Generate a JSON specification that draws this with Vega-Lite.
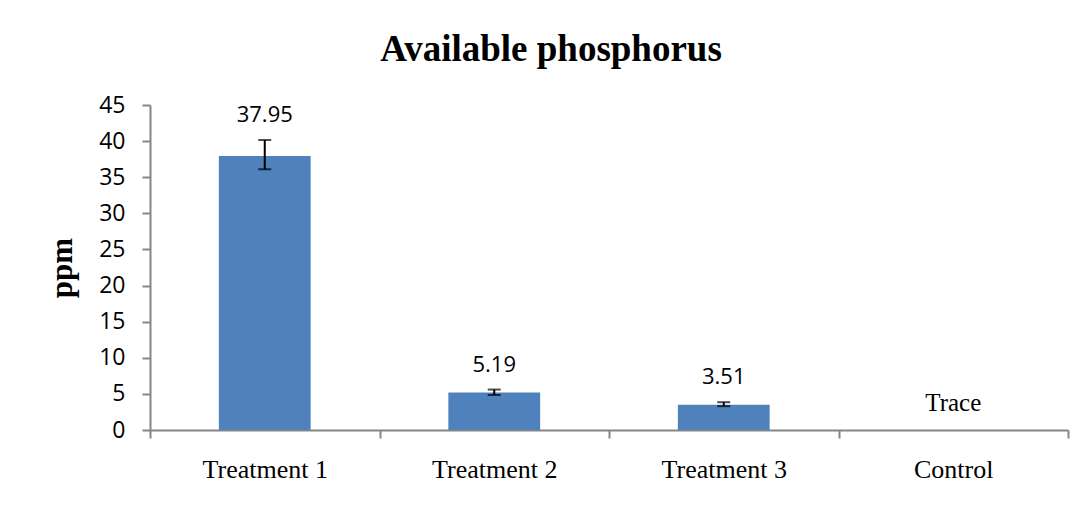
{
  "$schema": "https://vega.github.io/schema/vega-lite/v6.json",
  "width": 918,
  "height": 325,
  "autosize": {"type": "none"},
  "padding": {"left": 150, "top": 105, "right": 20, "bottom": 78},
  "background": "white",
  "config": {
    "view": {"stroke": null},
    "axisY": {
      "titleFont": "Liberation Serif",
      "titleFontSize": 31,
      "titleFontWeight": "bold",
      "titleColor": "black",
      "titlePadding": 20,
      "labelOverlap": false,
      "grid": false,
      "labelFont": "Open Sans",
      "labelFontSize": 23,
      "labelColor": "black",
      "labelPadding": 17,
      "tickSize": 8,
      "tickWidth": 2,
      "tickColor": "#868686",
      "domainColor": "#868686",
      "domainWidth": 2
    }
  },
  "title": {
    "text": "Available phosphorus",
    "font": "Liberation Serif",
    "fontSize": 37,
    "fontWeight": "bold",
    "color": "black",
    "anchor": "middle",
    "dx": -58,
    "baseline": "alphabetic",
    "offset": -4
  },
  "data": {
    "values": [
      {"treatment": "Treatment 1", "ppm": 37.95, "lo": 36.1, "hi": 40.15, "label": "37.95"},
      {"treatment": "Treatment 2", "ppm": 5.19, "lo": 4.85, "hi": 5.6, "label": "5.19"},
      {"treatment": "Treatment 3", "ppm": 3.51, "lo": 3.3, "hi": 3.85, "label": "3.51"},
      {"treatment": "Control", "ppm": 0, "lo": null, "hi": null, "label": "Trace"}
    ]
  },
  "encoding": {
    "x": {
      "field": "treatment",
      "type": "nominal",
      "sort": null,
      "scale": {"paddingInner": 0, "paddingOuter": 0},
      "axis": {
        "title": null,
        "labelAngle": 0,
        "labelFont": "Liberation Serif",
        "labelFontSize": 26,
        "labelColor": "black",
        "labelPadding": 18,
        "tickBand": "extent",
        "tickSize": 8,
        "tickWidth": 2,
        "tickColor": "#868686",
        "domainColor": "#868686",
        "domainWidth": 2
      }
    }
  },
  "layer": [
    {
      "mark": {"type": "bar", "color": "#4F81BD", "width": {"band": 0.4}},
      "encoding": {
        "y": {
          "field": "ppm",
          "type": "quantitative",
          "scale": {"domain": [0, 45], "nice": false},
          "axis": {"title": "ppm", "values": [0, 5, 10, 15, 20, 25, 30, 35, 40, 45]}
        }
      }
    },
    {
      "transform": [{"filter": "datum.lo != null"}],
      "mark": {"type": "rule", "color": "black", "strokeWidth": 2},
      "encoding": {
        "y": {"field": "lo", "type": "quantitative", "axis": {"title": "ppm", "values": [0, 5, 10, 15, 20, 25, 30, 35, 40, 45]}},
        "y2": {"field": "hi"}
      }
    },
    {
      "transform": [{"filter": "datum.lo != null"}],
      "mark": {"type": "tick", "color": "black", "thickness": 2, "size": 13, "orient": "horizontal"},
      "encoding": {"y": {"field": "lo", "type": "quantitative", "axis": {"title": "ppm", "values": [0, 5, 10, 15, 20, 25, 30, 35, 40, 45]}}}
    },
    {
      "transform": [{"filter": "datum.hi != null"}],
      "mark": {"type": "tick", "color": "black", "thickness": 2, "size": 13, "orient": "horizontal"},
      "encoding": {"y": {"field": "hi", "type": "quantitative", "axis": {"title": "ppm", "values": [0, 5, 10, 15, 20, 25, 30, 35, 40, 45]}}}
    },
    {
      "transform": [{"filter": "datum.hi != null"}],
      "mark": {"type": "text", "font": "Open Sans", "fontSize": 22, "color": "black", "baseline": "alphabetic", "dy": -18},
      "encoding": {
        "y": {"field": "hi", "type": "quantitative", "axis": {"title": "ppm", "values": [0, 5, 10, 15, 20, 25, 30, 35, 40, 45]}},
        "text": {"field": "label"}
      }
    },
    {
      "transform": [{"filter": "datum.hi == null"}],
      "mark": {"type": "text", "font": "Liberation Serif", "fontSize": 25, "color": "black", "baseline": "alphabetic", "dy": -19},
      "encoding": {
        "y": {"field": "ppm", "type": "quantitative", "axis": {"title": "ppm", "values": [0, 5, 10, 15, 20, 25, 30, 35, 40, 45]}},
        "text": {"field": "label"}
      }
    }
  ]
}
